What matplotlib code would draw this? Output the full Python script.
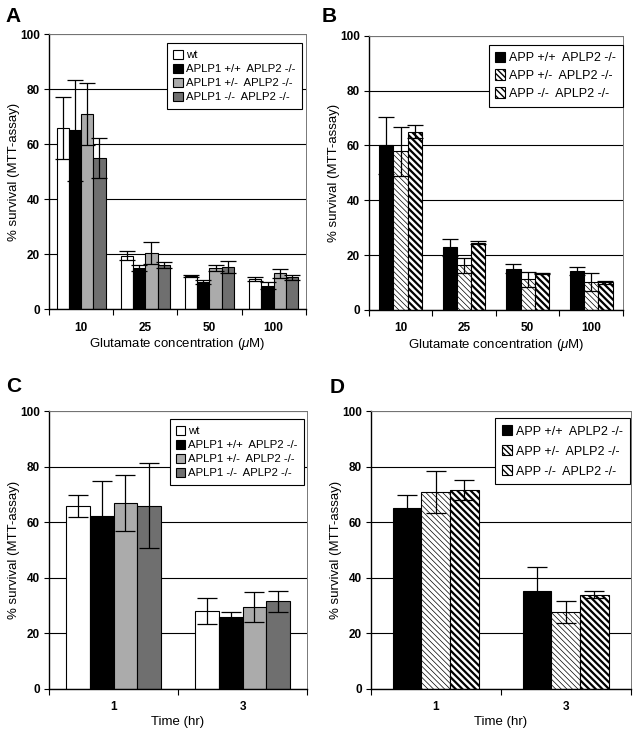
import matplotlib
matplotlib.use("Agg")
import matplotlib.pyplot as plt
import numpy as np

plt.rcParams['font.family'] = ['Liberation Sans', 'DejaVu Sans']
plt.rcParams['mathtext.fontset'] = 'custom'
plt.rcParams['mathtext.it'] = 'Liberation Sans:italic'

# panel A: glutamate, APLP1 series
conc = ["10", "25", "50", "100"]
a_labels = ["wt", "APLP1 +/+  APLP2 -/-", "APLP1 +/-  APLP2 -/-", "APLP1 -/-  APLP2 -/-"]
a_vals = [[66, 19.5, 12, 11],
          [65, 15, 10, 8.5],
          [71, 20.5, 15, 13],
          [55, 16, 15.3, 11.5]]
a_errs = [[11.3, 1.5, 0.5, 0.6],
          [18.3, 1.0, 0.7, 1.3],
          [11.3, 4.0, 1.2, 1.7],
          [7.4, 1.0, 2.2, 1.0]]

# panel B: glutamate, APP series
b_labels = ["APP +/+  APLP2 -/-", "APP +/-  APLP2 -/-", "APP -/-  APLP2 -/-"]
b_vals = [[60, 22.8, 15, 14.2],
          [57.8, 16.3, 11.2, 10],
          [65, 24.5, 13.3, 10]]
b_errs = [[10.3, 3.0, 1.6, 1.5],
          [8.8, 2.7, 2.7, 3.3],
          [2.4, 0.5, 0.3, 0.4]]

# panel C: time course, APLP1 series
times = ["1", "3"]
c_vals = [[66, 28], [62.3, 26], [67, 29.5], [66, 31.5]]
c_errs = [[4, 4.6], [12.5, 1.8], [10, 5.3], [15.3, 3.8]]

# panel D: time course, APP series
d_vals = [[65, 35.3], [71, 27.8], [71.7, 34]]
d_errs = [[4.8, 8.5], [7.5, 4], [3.5, 1.2]]

aplp1_style = [dict(color='white'), dict(color='black'),
               dict(color='#ababab'), dict(color='#6f6f6f')]
app_style = [dict(color='black', hatch=None, hlw=1.0),
             dict(color='white', hatch='\\\\\\\\\\\\', hlw=0.5),
             dict(color='white', hatch='\\\\\\\\\\', hlw=1.6)]

fig = plt.figure(figsize=(6.37, 7.29), dpi=100)


def setup(ax, cats, xlabel, letter, lx, ly):
    n = len(cats)
    ax.set_xlim(0.5, n + 0.5)
    ax.set_ylim(0, 100)
    ax.set_yticks([0, 20, 40, 60, 80, 100])
    ax.yaxis.grid(True, color='black', lw=0.8)
    ax.set_axisbelow(True)
    ax.set_xticks(np.arange(1, n + 1))
    ax.set_xticklabels(cats, fontweight='bold', fontsize=8.5)
    ax.set_xticks(np.arange(0.5, n + 1), minor=True)
    ax.tick_params(axis='x', which='major', length=0, pad=9)
    ax.tick_params(axis='x', which='minor', length=4, direction='out', width=0.8)
    ax.tick_params(axis='y', length=3.5, width=0.8, labelsize=8.5, pad=3)
    for t in ax.get_yticklabels():
        t.set_fontweight('bold')
    ax.spines['top'].set_color('#777777')
    ax.spines['right'].set_color('#777777')
    ax.spines['top'].set_linewidth(0.7)
    ax.spines['right'].set_linewidth(0.7)
    ax.spines['left'].set_linewidth(1.0)
    ax.spines['bottom'].set_linewidth(1.0)
    ax.set_ylabel("% survival (MTT-assay)", fontsize=9.5, labelpad=0)
    ax.set_xlabel(xlabel, fontsize=9.5, labelpad=2)
    fig.text(lx, ly, letter, fontsize=15, fontweight='bold', va='top', ha='left')


def draw(ax, vals, errs, labels, styles, width, capsize, hatched):
    nser = len(vals)
    x = np.arange(1, len(vals[0]) + 1)
    handles = []
    for i in range(nser):
        off = (i - (nser - 1) / 2) * width
        st = styles[i]
        if hatched:
            with plt.rc_context({'hatch.linewidth': st['hlw']}):
                b = ax.bar(x + off, vals[i], width, color=st['color'], edgecolor='black',
                           hatch=st['hatch'], lw=0.8, zorder=2, label=labels[i])
        else:
            b = ax.bar(x + off, vals[i], width, color=st['color'], edgecolor='black',
                       lw=0.8, zorder=2, label=labels[i])
        ax.errorbar(x + off, vals[i], yerr=errs[i], fmt='none', ecolor='black',
                    elinewidth=0.9, capsize=capsize, capthick=0.9, zorder=3)
        handles.append(b)
    return handles


def legend(ax, handles, labels, anchor, spacing, size):
    lg = ax.legend(handles, labels, loc='upper right', bbox_to_anchor=anchor,
                   borderaxespad=0, fontsize=size, fancybox=False, framealpha=1,
                   edgecolor='black', handlelength=0.8, handleheight=0.9,
                   handletextpad=0.3, labelspacing=spacing, borderpad=0.55)
    lg.get_frame().set_linewidth(0.8)
    lg.set_zorder(5)


glu_label = "Glutamate concentration ($\\mathit{\\mu}$M)"

axA = fig.add_axes([0.077, 0.576, 0.403, 0.377])
h = draw(axA, a_vals, a_errs, a_labels, aplp1_style, 0.19, 6, False)
setup(axA, conc, glu_label, "A", 0.008, 0.99)
legend(axA, h, a_labels, (0.984, 0.967), 0.3, 8.2)

axB = fig.add_axes([0.579, 0.575, 0.399, 0.376])
h = draw(axB, b_vals, b_errs, b_labels, app_style, 0.224, 6, True)
setup(axB, conc, glu_label, "B", 0.505, 0.99)
legend(axB, h, b_labels, (1.0, 0.967), 0.42, 9)

axC = fig.add_axes([0.077, 0.0549, 0.405, 0.381])
h = draw(axC, c_vals, c_errs, a_labels, aplp1_style, 0.184, 7, False)
setup(axC, times, "Time (hr)", "C", 0.01, 0.483)
legend(axC, h, a_labels, (0.988, 0.971), 0.3, 8.2)

axD = fig.add_axes([0.582, 0.0549, 0.408, 0.381])
h = draw(axD, d_vals, d_errs, b_labels, app_style, 0.221, 7, True)
setup(axD, times, "Time (hr)", "D", 0.518, 0.481)
legend(axD, h, b_labels, (0.996, 0.975), 0.6, 9)

fig.savefig("out.png", dpi=100)
